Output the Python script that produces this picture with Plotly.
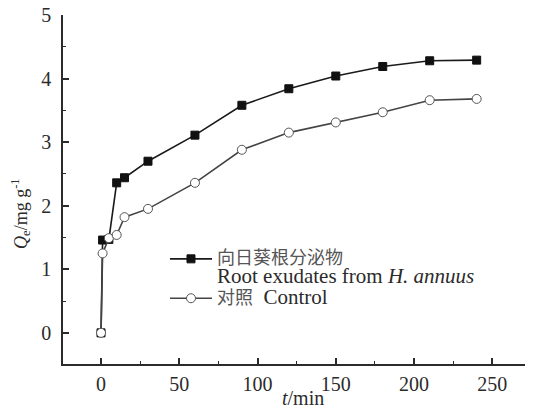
import plotly.graph_objects as go

t_min = [0, 1, 5, 10, 15, 30, 60, 90, 120, 150, 180, 210, 240]
root_exudates = [0, 1.46, 1.47, 2.36, 2.44, 2.70, 3.11, 3.58, 3.84, 4.04, 4.19, 4.28, 4.29]
control = [0, 1.25, 1.49, 1.54, 1.82, 1.95, 2.36, 2.88, 3.15, 3.31, 3.47, 3.66, 3.68]
x_ticks = [0, 50, 100, 150, 200, 250]
y_ticks = [0, 1, 2, 3, 4, 5]

SERIF = "Liberation Serif"
CJK = "Noto Sans CJK SC"
INK = "#2b2b2b"

def span(s, size, fam=None, color=None):
    style = f"font-size:{size}px"
    if fam:
        style += f";font-family:{fam}"
    if color:
        style += f";color:{color}"
    return f"<span style='{style}'>{s}</span>"

fig = go.Figure()
fig.add_trace(go.Scatter(
    x=t_min, y=root_exudates, mode="lines+markers",
    name=span("向日葵根分泌物", 18, CJK, "#555555") + "<br>" + span("Root exudates from <i>H. annuus</i>", 21),
    line=dict(color="#1a1a1a", width=1.6),
    marker=dict(symbol="square", size=8, color="#111111", line=dict(color="#111111", width=1)),
))
fig.add_trace(go.Scatter(
    x=t_min, y=control, mode="lines+markers",
    name=span("对照", 18, CJK, "#555555") + span("  Control", 21),
    line=dict(color="#444444", width=1.6),
    marker=dict(symbol="circle", size=9, color="white", line=dict(color="#555555", width=1)),
))

# page has an 8px body margin, so the figure is offset by (8, 8) in the window
fig.update_layout(
    width=533, height=410,
    margin=dict(l=55, r=8, t=7, b=54, autoexpand=False),
    paper_bgcolor="white", plot_bgcolor="white",
    font=dict(family=SERIF, size=20, color=INK),
    legend=dict(x=0.217, y=0.346, xanchor="left", yanchor="top",
                bgcolor="rgba(0,0,0,0)", valign="top", tracegroupgap=0,
                font=dict(family=SERIF, size=14, color=INK), itemwidth=42),
    showlegend=True,
    annotations=[
        dict(text="<i>t</i>/min", xref="paper", yref="paper", x=0.51, y=0,
             xanchor="center", yanchor="middle", yshift=-34, showarrow=False,
             font=dict(family=SERIF, size=20, color=INK)),
        dict(text="<i>Q</i><sub>e</sub>/mg g<sup>-1</sup>", xref="paper", yref="paper",
             x=0, y=0.43, xanchor="center", yanchor="middle", xshift=-42,
             textangle=-90, showarrow=False,
             font=dict(family=SERIF, size=18, color=INK)),
    ],
)
fig.update_xaxes(
    range=[-24.3, 276], tickvals=x_ticks, showgrid=False, zeroline=False, automargin=False,
    showline=True, linecolor=INK, linewidth=1.5,
    ticks="inside", ticklen=6, tickwidth=1.5, tickcolor=INK, ticklabelstandoff=1,
    ticklabeloverflow="allow",
    minor=dict(dtick=25, tick0=0, ticks="inside", ticklen=3, tickwidth=1.2, tickcolor=INK),
)
fig.update_yaxes(
    range=[-0.49, 5], tickvals=y_ticks, showgrid=False, zeroline=False, automargin=False,
    showline=True, linecolor=INK, linewidth=1.5,
    ticks="inside", ticklen=6, tickwidth=1.5, tickcolor=INK, ticklabelstandoff=6,
    ticklabeloverflow="allow",
    minor=dict(dtick=0.5, tick0=0, ticks="inside", ticklen=3, tickwidth=1.2, tickcolor=INK),
)

fig.write_html("out.html")
